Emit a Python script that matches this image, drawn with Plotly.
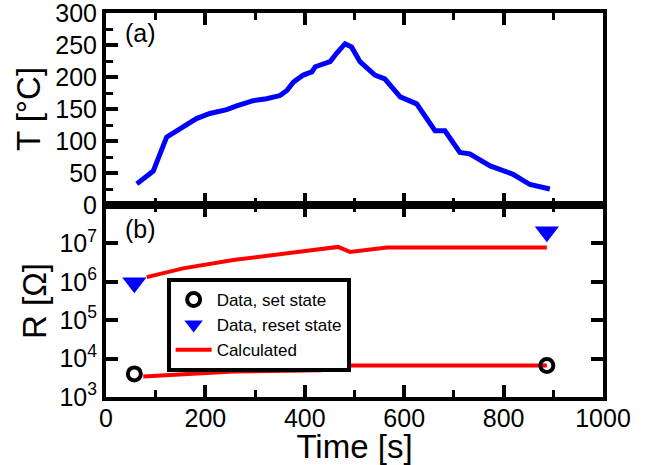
import plotly.graph_objects as go
from plotly.subplots import make_subplots

# Panel (a): temperature vs time
t_temp = [62, 95, 122, 142, 162, 182, 209, 243, 263, 296, 323, 350, 364, 377, 397, 414, 421,
          451, 464, 481, 494, 511, 541, 561, 592, 625, 662, 682, 712, 732, 773, 819, 853, 893]
temp = [33, 53, 106, 116, 124, 135, 143, 149, 155, 163, 166, 171, 179, 192, 203, 208, 216,
        224, 237, 252, 247, 224, 203, 197, 169, 158, 116, 116, 82, 80, 61, 48, 32, 25]

# Panel (b): resistance
t_set = [57, 887]
r_set = [4.0e3, 6.6e3]
t_reset = [57, 887]
r_reset = [9.5e5, 2.0e7]

t_calc_hi = [82, 155, 256, 390, 431, 467, 491, 565, 887]
r_calc_hi = [1.32e6, 2.24e6, 3.7e6, 6.0e6, 6.8e6, 8.1e6, 6.0e6, 7.8e6, 7.8e6]
t_calc_lo = [75, 256, 431, 471, 494, 887]
r_calc_lo = [3.4e3, 4.6e3, 5.0e3, 5.6e3, 6.6e3, 6.6e3]

temp_ticks = [0, 50, 100, 150, 200, 250, 300]
r_tickvals = [1e3, 1e4, 1e5, 1e6, 1e7]
r_ticktext = ["10<sup>3</sup>", "10<sup>4</sup>", "10<sup>5</sup>", "10<sup>6</sup>", "10<sup>7</sup>"]
time_ticks = [0, 200, 400, 600, 800, 1000]

FONT = "Arial, Liberation Sans, sans-serif"

fig = make_subplots(rows=2, cols=1, shared_xaxes=True, vertical_spacing=0)

fig.add_trace(go.Scatter(x=t_temp, y=temp, mode="lines", line=dict(color="#0000ff", width=5),
                         showlegend=False), row=1, col=1)

fig.add_trace(go.Scatter(x=t_calc_hi, y=r_calc_hi, mode="lines", line=dict(color="#ff0000", width=4),
                         name="Calculated", legendrank=3), row=2, col=1)
fig.add_trace(go.Scatter(x=t_calc_lo, y=r_calc_lo, mode="lines", line=dict(color="#ff0000", width=4),
                         showlegend=False), row=2, col=1)
fig.add_trace(go.Scatter(x=t_set, y=r_set, mode="markers", name="Data, set state", legendrank=1,
                         marker=dict(symbol="circle-open", size=13, color="black", line=dict(width=4, color="black"))),
              row=2, col=1)
fig.add_trace(go.Scatter(x=t_reset, y=r_reset, mode="markers", name="Data, reset state", legendrank=2,
                         marker=dict(symbol="triangle-down", size=21, color="#0000ff")),
              row=2, col=1)

axis_common = dict(showline=True, linecolor="black", linewidth=4, showgrid=False, zeroline=False,
                   ticks="inside", tickcolor="black", tickwidth=4, ticklen=12, automargin=False,
                   ticklabeloverflow="allow",
                   tickfont=dict(family=FONT, size=25, color="black"))

fig.update_xaxes(range=[0, 1000], tickvals=time_ticks, mirror="ticks",
                 minor=dict(dtick=100, tick0=0, ticks="inside", ticklen=7, tickwidth=3, tickcolor="black"),
                 **axis_common)
fig.update_xaxes(showticklabels=False, row=1, col=1)
fig.update_xaxes(title=dict(text="Time [s]", font=dict(family=FONT, size=33, color="black"), standoff=8),
                 ticklabelstandoff=-4, row=2, col=1)

fig.update_yaxes(range=[0, 300], tickvals=temp_ticks, mirror=True,
                 minor=dict(dtick=25, tick0=0, ticks="inside", ticklen=7, tickwidth=3, tickcolor="black"),
                 title=dict(text="T [°C]", font=dict(family=FONT, size=33, color="black"), standoff=6),
                 row=1, col=1, **axis_common)
fig.update_yaxes(type="log", range=[3, 8], tickvals=r_tickvals, ticktext=r_ticktext, mirror="ticks",
                 title=dict(text="R [Ω]", font=dict(family=FONT, size=33, color="black"), standoff=4),
                 row=2, col=1, **axis_common)

fig.add_annotation(text="(a)", x=0.035, y=0.99, xref="paper", yref="paper", showarrow=False,
                   xanchor="left", yanchor="top", font=dict(family=FONT, size=25, color="black"))
fig.add_annotation(text="(b)", x=0.035, y=0.48, xref="paper", yref="paper", showarrow=False,
                   xanchor="left", yanchor="top", font=dict(family=FONT, size=25, color="black"))

fig.update_layout(
    width=652, height=465,
    margin=dict(l=106, r=49, t=13, b=68, autoexpand=False),
    plot_bgcolor="white", paper_bgcolor="white",
    font=dict(family=FONT, color="black"),
    legend=dict(x=0.122, y=0.31, xanchor="left", yanchor="top",
                bordercolor="black", borderwidth=4, bgcolor="white",
                font=dict(family=FONT, size=17, color="black"),
                tracegroupgap=0, itemwidth=36),
)

fig.write_html("out.html", config={"displayModeBar": False},
               post_script="document.body.style.margin='0';")
